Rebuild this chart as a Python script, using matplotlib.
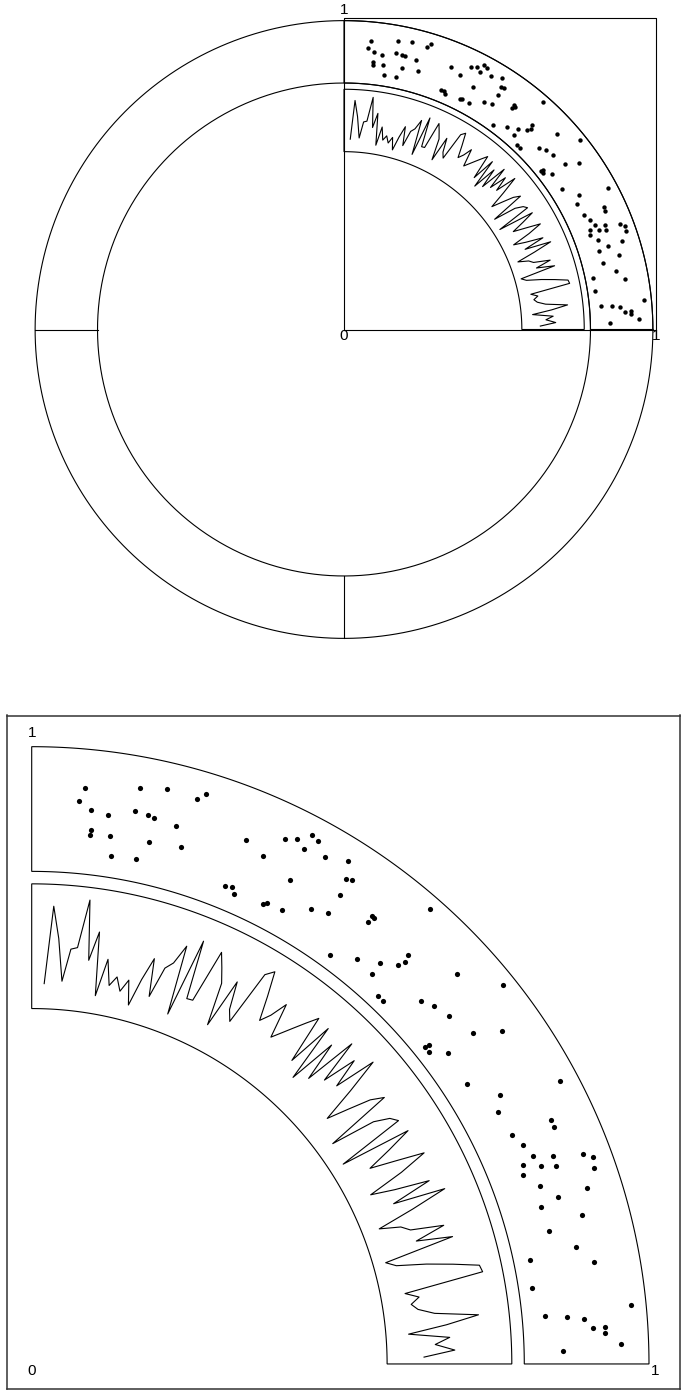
import numpy as np
import matplotlib
matplotlib.use("Agg")
import matplotlib.pyplot as plt

# piste 1 : nuage de points (x et y entre 0 et 1 dans la cellule)
pts_x = [0.049, 0.043, 0.058, 0.079, 0.060, 0.060, 0.085, 0.089, 0.110, 0.139,
         0.109, 0.124, 0.132, 0.159, 0.132, 0.171, 0.121, 0.174, 0.182, 0.241,
         0.267, 0.282, 0.293, 0.305, 0.306, 0.315, 0.330, 0.354, 0.308, 0.363,
         0.370, 0.239, 0.247, 0.253, 0.367, 0.292, 0.296, 0.317, 0.347, 0.367,
         0.411, 0.415, 0.412, 0.457, 0.399, 0.429, 0.454, 0.472, 0.476, 0.473,
         0.456, 0.528, 0.571, 0.480, 0.490, 0.523, 0.538, 0.559, 0.593, 0.610,
         0.570, 0.571, 0.578, 0.593, 0.639, 0.691, 0.672, 0.689, 0.725, 0.734,
         0.721, 0.738, 0.755, 0.764, 0.774, 0.782, 0.761, 0.770, 0.776, 0.793,
         0.772, 0.792, 0.811, 0.812, 0.817, 0.839, 0.848, 0.874, 0.878, 0.895,
         0.913, 0.947, 0.951, 0.954, 0.959, 0.970, 0.969, 0.976, 0.989, 0.996]
pts_y = [0.739, 0.604, 0.526, 0.498, 0.326, 0.276, 0.292, 0.095, 0.816, 0.861,
         0.580, 0.565, 0.550, 0.524, 0.302, 0.334, 0.110, 0.841, 0.916, 0.615,
         0.537, 0.778, 0.835, 0.780, 0.944, 0.910, 0.811, 0.887, 0.440, 0.725,
         0.753, 0.109, 0.125, 0.069, 0.564, 0.101, 0.120, 0.130, 0.291, 0.340,
         0.577, 0.569, 0.508, 1.000, 0.017, 0.146, 0.263, 0.370, 0.431, 0.511,
         0.121, 0.721, 1.000, 0.006, 0.000, 0.269, 0.341, 0.388, 0.467, 0.713,
         0.000, 0.045, 0.005, 0.144, 0.127, 0.948, 0.356, 0.245, 0.687, 0.689,
         0.269, 0.334, 0.378, 0.563, 0.853, 0.937, 0.255, 0.417, 0.551, 0.911,
         0.210, 0.339, 0.774, 0.474, 0.279, 0.652, 0.293, 0.519, 0.037, 0.660,
         0.015, 0.972, 0.100, 0.321, 0.492, 0.580, 0.699, 0.695, 0.851, 0.262]

# piste 2 : courbe, 100 valeurs regulierement espacees
line_y = [0.127, 0.906, 0.586, 0.161, 0.489, 0.511, 0.999, 0.399, 0.695, 0.059,
          0.440, 0.185, 0.285, 0.152, 0.281, 0.039, 0.321, 0.557, 0.180, 0.499,
          0.576, 0.779, 0.076, 0.887, 0.291, 0.300, 0.856, 0.717, 0.576, 0.143,
          0.661, 0.382, 0.279, 0.861, 0.938, 0.691, 0.445, 0.551, 0.727, 0.372,
          0.475, 0.585, 0.700, 0.816, 0.320, 0.800, 0.200, 0.700, 0.300, 0.850,
          0.400, 0.750, 0.450, 0.880, 0.522, 0.164, 0.382, 0.616, 0.743, 0.052,
          0.512, 0.665, 0.725, 0.022, 0.751, 0.491, 0.230, 0.490, 0.779, 0.487,
          0.110, 0.350, 0.700, 0.280, 0.810, 0.434, 0.050, 0.259, 0.340, 0.670,
          0.360, 0.720, 0.003, 0.098, 0.394, 0.653, 0.908, 0.926, 0.121, 0.253,
          0.163, 0.223, 0.383, 0.818, 0.490, 0.102, 0.511, 0.362, 0.556, 0.246]
line_x = np.arange(1, len(line_y) + 1) / len(line_y)

# geometrie facon circlize : secteur de 90 a 0 degres, 1 degre de marge
TRACKS = [(0.79, 0.99), (0.57, 0.77)]
LW = 0.8


def polaire(x, y, piste):
    r_in, r_out = TRACKS[piste]
    th = np.radians(89 - np.asarray(x) * 88)
    r = r_in + 0.02 + np.asarray(y) * (r_out - r_in - 0.04)
    return r * np.cos(th), r * np.sin(th)


def cellule(ax, piste, a0=0, a1=90):
    r_in, r_out = TRACKS[piste]
    t = np.radians(np.linspace(a0, a1, 300))
    xs = np.concatenate([r_out * np.cos(t), r_in * np.cos(t[::-1])])
    ys = np.concatenate([r_out * np.sin(t), r_in * np.sin(t[::-1])])
    ax.fill(xs, ys, fill=False, color="black", lw=LW)


def dessiner_secteur(ax, taille_pt):
    cellule(ax, 0)
    cellule(ax, 1)
    x, y = polaire(pts_x, pts_y, 0)
    ax.scatter(x, y, s=taille_pt, color="black", lw=0)
    x, y = polaire(line_x, line_y, 1)
    ax.plot(x, y, color="black", lw=LW)


def etiquettes(ax):
    for (x, y, txt, va) in [(0, 1, "1", "bottom"), (0, 0, "0", "top"), (1, 0, "1", "top")]:
        ax.text(x, y, txt, ha="center", va=va, fontsize=11, family="Liberation Sans")


fig = plt.figure(figsize=(6.81, 13.91), dpi=100)

# haut : cercle complet avec le quart de canevas
ax1 = fig.add_axes([0, 0.5, 1, 0.5])
ax1.set_xlim(-344 / 312, 337 / 312)
ax1.set_ylim(-366 / 312, 329.5 / 312)
ax1.axis("off")
t = np.linspace(0, 2 * np.pi, 800)
for r in TRACKS[0]:
    ax1.plot(r * np.cos(t), r * np.sin(t), color="black", lw=LW)
ax1.plot([-0.99, -0.79], [0, 0], color="black", lw=LW)
ax1.plot([0, 0], [-0.99, -0.79], color="black", lw=LW)
ax1.plot([0, 1, 1, 0, 0], [0, 0, 1, 1, 0], color="black", lw=LW)
dessiner_secteur(ax1, 10)
etiquettes(ax1)

# bas : canevas limite a [0, 1] x [0, 1]
ax2 = fig.add_axes([6.76 / 681, 2.1 / 1391, 673.4 / 681, 673.4 / 1391])
ax2.set_xlim(-0.04, 1.04)
ax2.set_ylim(-0.04, 1.04)
ax2.set_xticks([])
ax2.set_yticks([])
for s in ax2.spines.values():
    s.set_linewidth(1.1)
    s.set_color("#333333")
dessiner_secteur(ax2, 14)
etiquettes(ax2)

fig.savefig("out.png", dpi=100)
